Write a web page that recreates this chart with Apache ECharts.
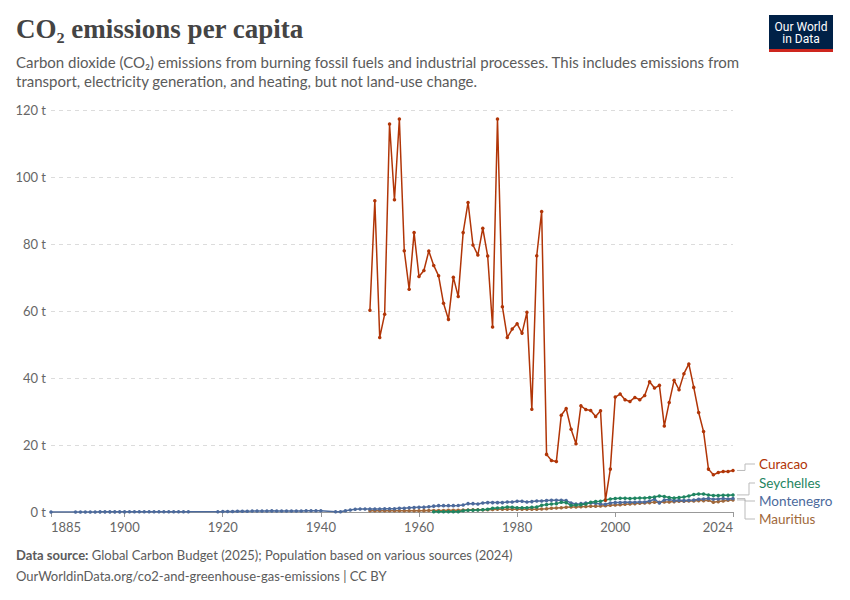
<!DOCTYPE html>
<html>
<head>
<meta charset="utf-8">
<script src="https://cdn.jsdelivr.net/npm/echarts@6/dist/echarts.min.js"></script>
<style>
  html, body { margin: 0; padding: 0; background: #fff; }
  #main { width: 850px; height: 600px; }
</style>
</head>
<body>
<div id="main"></div>
<script>
// x ticks shown on the axis
var xTicks = [1885, 1900, 1920, 1940, 1960, 1980, 2000, 2024];

// Curacao, 1950-2024 (t per person)
var curacaoYears = [];
for (var y = 1950; y <= 2024; y++) curacaoYears.push(y);
var curacaoValues = [
  60.2, 92.9, 52.1, 59.0, 115.8, 93.2, 117.3, 78.0, 66.5, 83.4,
  70.3, 72.1, 77.9, 73.6, 70.5, 62.3, 57.5, 70.1, 64.3, 83.4,
  92.4, 79.7, 76.7, 84.7, 76.4, 55.2, 117.3, 61.3, 52.1, 54.6,
  56.2, 53.4, 59.6, 30.7, 76.5, 89.7, 17.2, 15.4, 15.1, 28.9,
  30.9, 24.7, 20.4, 31.7, 30.6, 30.3, 28.5, 30.2, 3.5, 12.8,
  34.3, 35.2, 33.5, 33.0, 34.2, 33.5, 34.8, 38.9, 37.0, 37.8,
  25.7, 32.7, 39.3, 36.5, 41.3, 44.2, 37.2, 29.7, 24.0, 12.8,
  11.1, 11.8, 12.1, 12.1, 12.4
];

// Seychelles, 1963-2024
var seychellesYears = [];
for (var y = 1963; y <= 2024; y++) seychellesYears.push(y);
var seychellesValues = [
  0.05, 0.05, 0.06, 0.07, 0.08, 0.1, 0.4,
  0.5, 0.55, 0.6, 0.65, 0.8, 1.1, 1.2, 1.3, 1.5, 1.4,
  1.3, 1.3, 1.3, 1.4, 1.5, 2.0, 2.2, 2.4, 2.5, 2.9,
  2.8, 2.0, 2.1, 2.2, 2.4, 2.9, 3.1, 3.2, 3.6, 3.9,
  4.0, 4.1, 4.1, 4.0, 4.1, 4.2, 4.2, 4.3, 4.5, 4.8,
  4.6, 4.3, 4.2, 4.3, 4.5, 4.8, 5.2, 5.4, 5.4, 5.1,
  4.9, 4.9, 5.0, 5.0, 5.1
];

// Montenegro, 1885, 1890-1913, 1919-1940, 1943-2024
var montenegroYears = [1885];
for (var y = 1890; y <= 1913; y++) montenegroYears.push(y);
for (var y = 1919; y <= 1940; y++) montenegroYears.push(y);
for (var y = 1943; y <= 2024; y++) montenegroYears.push(y);
var montenegroValues = [
  0.02,
  0.03, 0.03, 0.03, 0.03, 0.03, 0.04, 0.04, 0.04, 0.04, 0.04,
  0.04, 0.05, 0.05, 0.05, 0.05, 0.05, 0.05, 0.06, 0.06, 0.06,
  0.06, 0.06, 0.07, 0.07,
  0.1, 0.12, 0.15, 0.17, 0.2, 0.22, 0.25, 0.27, 0.3, 0.32,
  0.33, 0.34, 0.33, 0.32, 0.3, 0.3, 0.32, 0.33, 0.35, 0.35,
  0.36, 0.35,
  0.05, 0.1, 0.4, 0.6, 0.8, 0.9, 0.9,
  0.9, 0.9, 0.9, 0.95, 0.95, 1.0, 1.1, 1.15, 1.25, 1.35,
  1.4, 1.45, 1.55, 1.75, 1.9, 1.9, 1.9, 1.9, 1.95, 2.1,
  2.5, 2.5, 2.4, 2.7, 2.8, 2.8, 2.8, 2.8, 3.0, 3.0,
  3.2, 3.2, 3.0, 3.1, 3.3, 3.3, 3.4, 3.5, 3.5, 3.5,
  3.4, 2.7, 2.4, 2.5, 2.7, 2.7, 2.6, 2.4, 2.3, 2.7,
  2.8, 2.8, 2.9, 2.9, 2.9, 3.0, 3.0, 3.3, 3.8, 2.7,
  3.6, 3.7, 3.4, 3.5, 3.4, 3.5, 3.6, 3.8, 3.9, 4.0,
  3.8, 3.9, 4.0, 3.9, 4.0
];

// Mauritius, 1950-2024
var mauritiusYears = [];
for (var y = 1950; y <= 2024; y++) mauritiusYears.push(y);
var mauritiusValues = [
  0.35, 0.35, 0.36, 0.36, 0.37, 0.37, 0.38, 0.38, 0.39, 0.4,
  0.4, 0.41, 0.42, 0.43, 0.45, 0.45, 0.5, 0.5, 0.55, 0.6,
  0.6, 0.65, 0.65, 0.7, 0.7, 0.75, 0.8, 0.85, 0.85, 0.85,
  0.85, 0.8, 0.8, 0.8, 0.85, 0.9, 0.95, 1.1, 1.2, 1.3,
  1.4, 1.5, 1.5, 1.6, 1.65, 1.7, 1.75, 1.8, 1.9, 2.0,
  2.1, 2.2, 2.3, 2.4, 2.5, 2.6, 2.7, 2.8, 2.9, 2.9,
  3.0, 3.0, 3.1, 3.2, 3.2, 3.3, 3.3, 3.4, 3.4, 3.5,
  2.9, 3.1, 3.3, 3.5, 3.6
];

var countries = ['Mauritius', 'Montenegro', 'Seychelles', 'Curacao'];
var colors = ['#a0683a', '#4c6a9c', '#1f8561', '#b13507'];
var yearsList = [mauritiusYears, montenegroYears, seychellesYears, curacaoYears];
var valuesList = [mauritiusValues, montenegroValues, seychellesValues, curacaoValues];
// label rows on the right, top to bottom
var labelY = { Curacao: 464, Seychelles: 483, Montenegro: 501, Mauritius: 519 };

function pairs(xs, vs) {
  var out = [];
  for (var i = 0; i < xs.length; i++) out.push([xs[i], vs[i]]);
  return out;
}

var series = [];
for (var i = 0; i < countries.length; i++) {
  series.push({
    name: countries[i],
    type: 'line',
    data: pairs(yearsList[i], valuesList[i]),
    symbol: 'circle',
    symbolSize: 3.5,
    showSymbol: true,
    lineStyle: { width: 1.5, color: colors[i] },
    itemStyle: { color: colors[i] },
    animation: false,
    z: 2 + i
  });
}

var chart = echarts.init(document.getElementById('main'), null, { renderer: 'svg' });

var option = {
  animation: false,
  grid: { left: 51, right: 117, top: 110, bottom: 88 },
  xAxis: {
    type: 'value',
    min: 1885,
    max: 2024,
    splitLine: { show: false },
    axisLine: { show: true, lineStyle: { color: '#999', width: 1 } },
    axisTick: { show: true, customValues: xTicks, length: 5, lineStyle: { color: '#999' } },
    axisLabel: {
      customValues: xTicks,
      color: '#666',
      fontFamily: 'Lato',
      fontSize: 13,
      margin: 8,
      alignMinLabel: 'left',
      alignMaxLabel: 'right',
      formatter: function (v) { return String(v); }
    }
  },
  yAxis: {
    type: 'value',
    min: 0,
    max: 120,
    interval: 20,
    axisLine: { show: false },
    axisTick: { show: false },
    axisLabel: { color: '#666', fontFamily: 'Lato', fontSize: 13, margin: 5, formatter: '{value} t' },
    splitLine: { lineStyle: { color: '#dcdcdc', type: [4, 4], width: 1 } }
  },
  series: series,
  graphic: [
    { type: 'text', id: 'title', left: 16, top: 15,
      style: { text: 'CO₂ emissions per capita', fill: '#444',
        font: '600 27px "Liberation Serif", "DejaVu Serif", serif' } },
    { type: 'text', id: 'sub', left: 16, top: 52,
      style: { text: 'Carbon dioxide (CO₂) emissions from burning fossil fuels and industrial processes. This includes emissions from\ntransport, electricity generation, and heating, but not land-use change.',
        fill: '#5b5b5b', font: '15px Lato', lineHeight: 19 } },
    { type: 'rect', id: 'logoBox', shape: { x: 769, y: 15, width: 64, height: 35 },
      style: { fill: '#002147' } },
    { type: 'rect', id: 'logoBar', shape: { x: 769, y: 49, width: 64, height: 3 },
      style: { fill: '#ce261e' } },
    { type: 'text', id: 'logo', x: 801, y: 33,
      style: { text: 'Our World\nin Data', fill: '#fff', font: '12px Roboto', lineHeight: 12.5,
        align: 'center', verticalAlign: 'middle' } },
    { type: 'text', id: 'src', left: 16, top: 548,
      style: { text: '{b|Data source:} Global Carbon Budget (2025); Population based on various sources (2024)',
        fill: '#5b5b5b', font: '13px Lato',
        rich: { b: { fontWeight: 'bold', fontFamily: 'Lato', fontSize: 13, fill: '#5b5b5b' } } } },
    { type: 'text', id: 'url', left: 16, top: 569,
      style: { text: 'OurWorldinData.org/co2-and-greenhouse-gas-emissions | CC BY',
        fill: '#5b5b5b', font: '13px Lato' } }
  ]
};

chart.setOption(option);

// right-hand labels with connector lines from each series' last point
var extra = [];
for (var i = 0; i < countries.length; i++) {
  var ys = yearsList[i], vs = valuesList[i];
  var p = chart.convertToPixel({ seriesIndex: i }, [ys[ys.length - 1], vs[vs.length - 1]]);
  var ly = labelY[countries[i]];
  var midX = (countries[i] === 'Seychelles') ? 749 : 745;
  extra.push({
    type: 'polyline', id: 'conn' + i,
    shape: { points: [[p[0] + 4, p[1]], [midX, p[1]], [midX, ly], [755, ly]] },
    style: { stroke: '#bbb', lineWidth: 1, fill: null }
  });
  extra.push({
    type: 'text', id: 'lab' + i, x: 759, y: ly,
    style: { text: countries[i], fill: colors[i], font: '13.5px Lato', verticalAlign: 'middle' }
  });
}
chart.setOption({ graphic: extra });
</script>
</body>
</html>
